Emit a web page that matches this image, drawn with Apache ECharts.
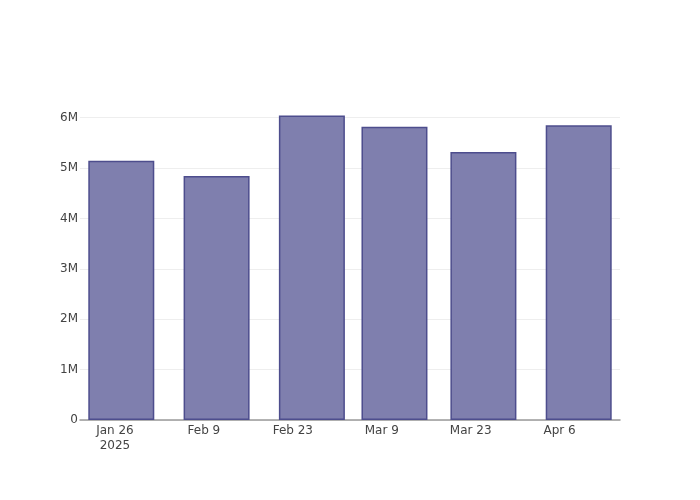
<!DOCTYPE html>
<html>
<head>
<meta charset="utf-8">
<script src="https://cdn.jsdelivr.net/npm/echarts@6/dist/echarts.min.js"></script>
<style>html,body{margin:0;padding:0;background:#fff}#c{width:700px;height:500px}</style>
</head>
<body>
<div id="c"></div>
<script>
const barDates = ['2025-01-27', '2025-02-11', '2025-02-26', '2025-03-11', '2025-03-25', '2025-04-09'];
const barValues = [5145000, 4840000, 6040000, 5820000, 5320000, 5850000];
const tickDates = ['2025-01-26', '2025-02-09', '2025-02-23', '2025-03-09', '2025-03-23', '2025-04-06'];
const tickLabels = ['Jan 26\n2025', 'Feb 9', 'Feb 23', 'Mar 9', 'Mar 23', 'Apr 6'];
const yTickLabels = ['0', '1M', '2M', '3M', '4M', '5M', '6M'];

const ts = s => new Date(s + 'T00:00:00Z').getTime();
const DAY = 86400000;
const tickTs = tickDates.map(ts);
const labelFor = v => {
  for (let i = 0; i < tickTs.length; i++) {
    if (Math.abs(tickTs[i] - v) < DAY / 2) return tickLabels[i];
  }
  return '';
};

const chart = echarts.init(document.getElementById('c'), null, {renderer: 'canvas'});
chart.setOption({
  animation: false,
  backgroundColor: '#fff',
  grid: {left: 80, right: 80, top: 100, bottom: 80},
  xAxis: {
    type: 'value',
    scale: true,
    min: ts('2025-01-26') - 5.5 * DAY,
    max: ts('2025-01-26') + 79.5 * DAY,
    axisLine: {show: true, onZero: false, lineStyle: {color: '#9a9a9a', width: 1.5}},
    axisTick: {show: false},
    splitLine: {show: false},
    axisLabel: {
      customValues: tickTs,
      formatter: v => labelFor(v),
      color: '#444',
      fontFamily: 'DejaVu Sans',
      fontSize: 12,
      lineHeight: 15,
      margin: 3,
      hideOverlap: false
    }
  },
  yAxis: {
    type: 'value',
    min: 0,
    max: 6350000,
    interval: 1000000,
    axisLine: {show: false},
    axisTick: {show: false},
    splitLine: {showMaxLine: false, lineStyle: {color: '#eeeeee', width: 1}},
    axisLabel: {
      formatter: v => yTickLabels[Math.round(v / 1000000)] || '',
      color: '#444',
      fontFamily: 'DejaVu Sans',
      fontSize: 12,
      margin: 2,
      showMaxLabel: false
    }
  },
  series: [{
    type: 'bar',
    barWidth: 66,
    data: barDates.map((d, i) => [ts(d), barValues[i]]),
    itemStyle: {color: '#7f7fae', borderColor: '#4d4d8d', borderWidth: 1.5}
  }]
});
</script>
</body>
</html>
